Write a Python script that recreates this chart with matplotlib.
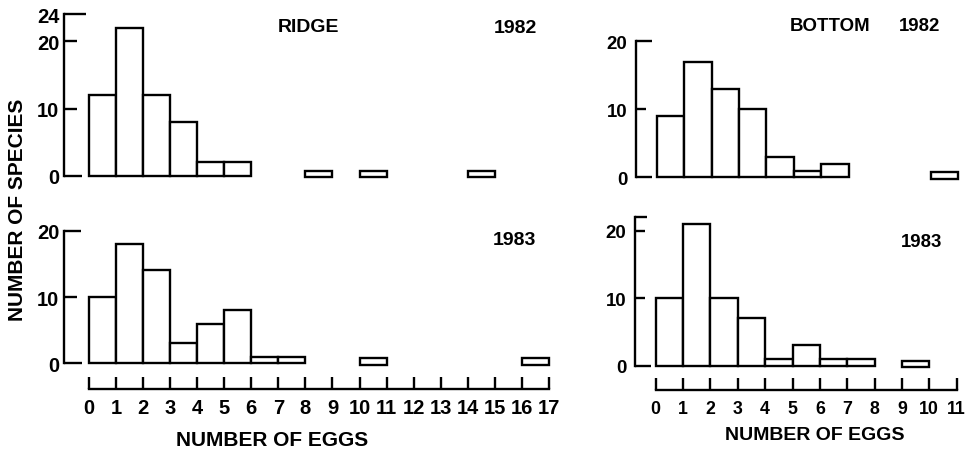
import matplotlib
matplotlib.use('Agg')
import matplotlib.pyplot as plt
import numpy as np

plt.rcParams['font.family'] = ['Liberation Sans', 'DejaVu Sans']
plt.rcParams['font.weight'] = 'bold'

# ---- data (number of species per egg-count class) ----
ridge_edges = list(range(17))          # classes 0-1, 1-2, ... 16-17
ridge_1982 = [12, 22, 12, 8, 2, 2, 0, 0, 1, 0, 1, 0, 0, 0, 1, 0, 0]
ridge_1983 = [10, 18, 14, 3, 6, 8, 1, 1, 0, 0, 1, 0, 0, 0, 0, 0, 1]
bottom_edges = list(range(11))         # classes 0-1 ... 10-11
bottom_1982 = [9, 17, 13, 10, 3, 1, 2, 0, 0, 0, 1]
bottom_1983 = [10, 21, 10, 7, 1, 3, 1, 1, 0, 1, 0]

ridge_xticks = list(range(18))
bottom_xticks = list(range(12))
yt_ridge82 = [0, 10, 20, 24]
yt_ridge83 = [0, 10, 20]
yt_bottom82 = [0, 10, 20]
yt_bottom83 = [0, 10, 20, 22]
yl_bottom83 = ['0', '10', '20', '']

W, H, DPI = 968, 452, 100
fig = plt.figure(figsize=(W / DPI, H / DPI), dpi=DPI)
LW = 1.7
PX2PT = 72.0 / DPI


def make_ax(x0, xs, xlim, y0, ys, ylim):
    left = x0 + xlim[0] * xs
    right = x0 + xlim[1] * xs
    top = y0 - ylim[1] * ys
    bot = y0 - ylim[0] * ys
    ax = fig.add_axes([left / W, 1 - bot / H, (right - left) / W, (bot - top) / H])
    ax.set_xlim(*xlim)
    ax.set_ylim(*ylim)
    ax.patch.set_alpha(0)
    for s in ('top', 'right'):
        ax.spines[s].set_visible(False)
    ax.spines['left'].set_linewidth(LW)
    ax.spines['bottom'].set_linewidth(LW)
    ax.spines['left'].set_position(('data', xlim[0]))
    return ax, bot


def draw_bars(ax, edges, counts):
    counts = np.asarray(counts)
    edges = np.asarray(edges)
    n = len(counts)
    iso = np.array([counts[i] > 0 and (i == 0 or counts[i - 1] == 0) and (i == n - 1 or counts[i + 1] == 0)
                    for i in range(n)])
    bottoms = np.where(iso, -0.25, 0.0)
    m = counts > 0
    ax.bar(edges[m], counts[m], width=1.0, align='edge', bottom=bottoms[m],
           facecolor='white', edgecolor='black', linewidth=LW, joinstyle='miter')


def style_y(ax, ticks, labels, mid_len_px, zero_len_px, top_len_px, pad_pt, size):
    ax.set_yticks(ticks)
    ax.set_yticklabels(labels if labels is not None else [str(t) for t in ticks])
    ax.spines['left'].set_bounds(ticks[0], ticks[-1])
    ax.tick_params(axis='y', direction='in', length=mid_len_px * PX2PT, width=LW,
                   pad=pad_pt, labelsize=size)
    tks = ax.yaxis.get_major_ticks()
    tks[0].tick1line.set_markersize(zero_len_px * PX2PT)
    tks[-1].tick1line.set_markersize(top_len_px * PX2PT)


def style_x(ax, ticks, axis_px, bot_px, pad_pt, size):
    ax.set_xticks(ticks)
    ax.set_xticklabels([str(t) for t in ticks])
    ax.spines['bottom'].set_position(('outward', (axis_px - bot_px) * PX2PT))
    ax.spines['bottom'].set_bounds(ticks[0], ticks[-1])
    ax.tick_params(axis='x', direction='in', length=12.5 * PX2PT, width=LW,
                   pad=pad_pt, labelsize=size)


def hide_x(ax):
    ax.spines['bottom'].set_visible(False)
    ax.set_xticks([])


# ---- Ridge 1982 ----
ax1, b1 = make_ax(89.0, 27.05, (-0.94, 17.3), 176.7, 6.72, (-1.5, 24.5))
draw_bars(ax1, ridge_edges, ridge_1982)
style_y(ax1, yt_ridge82, None, 13, 18, 22, 3.0, 14.5)
hide_x(ax1)
ax1.text(8.1, 22.2, 'RIDGE', ha='center', va='center', fontsize=14)
ax1.text(15.75, 22.1, '1982', ha='center', va='center', fontsize=14)

# ---- Ridge 1983 ----
ax2, b2 = make_ax(89.0, 27.05, (-0.94, 17.3), 364.3, 6.63, (-1.5, 21))
draw_bars(ax2, ridge_edges, ridge_1983)
style_y(ax2, yt_ridge83, None, 13, 18, 17, 3.0, 14.5)
style_x(ax2, ridge_xticks, 390.0, b2, 6.7, 14.5)
ax2.text(15.74, 18.7, '1983', ha='center', va='center', fontsize=14)

# ---- Bottom 1982 ----
ax3, b3 = make_ax(656.7, 27.4, (-0.76, 11.3), 178.3, 6.8, (-1.5, 24.5))
draw_bars(ax3, bottom_edges, bottom_1982)
style_y(ax3, yt_bottom82, None, 10, 16, 16, 6.0, 13.4)
hide_x(ax3)
ax3.text(6.34, 22.3, 'BOTTOM', ha='center', va='center', fontsize=13.4)
ax3.text(9.61, 22.3, '1982', ha='center', va='center', fontsize=13.4)

# ---- Bottom 1983 ----
ax4, b4 = make_ax(655.7, 27.36, (-0.76, 11.3), 366.7, 6.75, (-1.5, 23))
draw_bars(ax4, bottom_edges, bottom_1983)
style_y(ax4, yt_bottom83, yl_bottom83, 10, 16, 12, 6.0, 13.4)
style_x(ax4, bottom_xticks, 390.7, b4, 7.2, 12.8)
ax4.text(9.72, 18.4, '1983', ha='center', va='center', fontsize=13.4)

# ---- shared labels ----
fig.text(17.5 / W, 1 - 210 / H, 'NUMBER OF SPECIES', rotation=90,
         ha='center', va='center', fontsize=15)
fig.text(271.7 / W, 1 - 440.8 / H, 'NUMBER OF EGGS', ha='center', va='center', fontsize=15)
fig.text(814.5 / W, 1 - 435.8 / H, 'NUMBER OF EGGS', ha='center', va='center', fontsize=14)

fig.savefig('out.png', dpi=DPI, facecolor='white')
